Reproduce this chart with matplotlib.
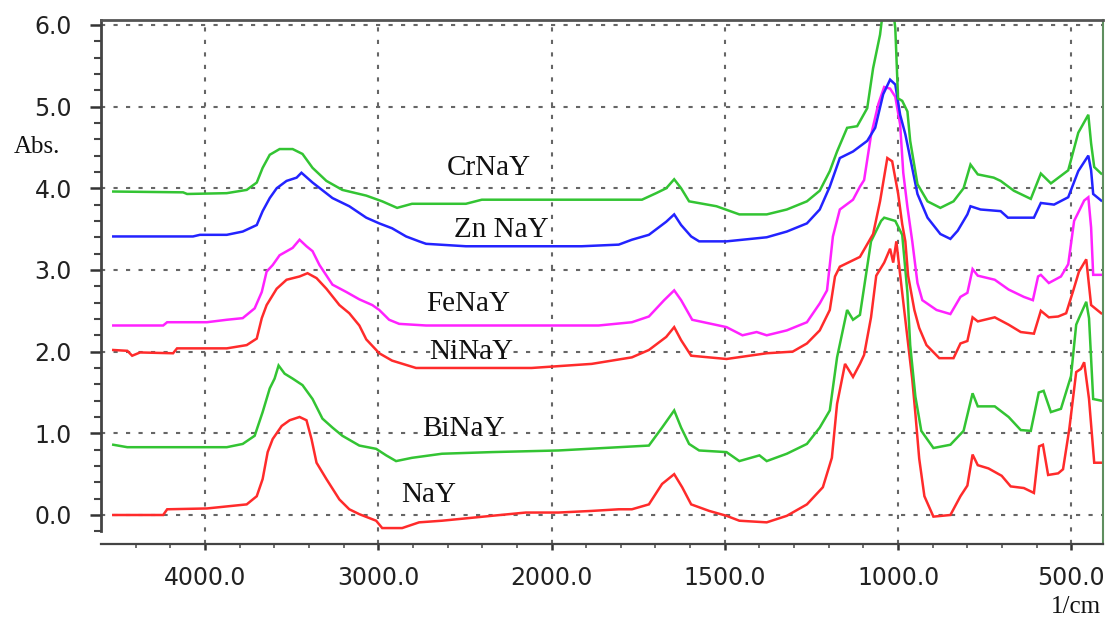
import matplotlib
matplotlib.use("Agg")
import matplotlib.pyplot as plt
import numpy as np
from matplotlib.ticker import FixedLocator, FormatStrFormatter

# FTIR spectra, wavenumber (1/cm) vs absorbance
nay_wn = [4529, 4241, 4218, 3989, 3759, 3701, 3667, 3638, 3609, 3557, 3511, 3454, 3414, 3385,
          3356, 3299, 3224, 3167, 3109, 3012, 2977, 2862, 2764, 2632, 2345, 2149, 1980, 1884,
          1806, 1768, 1719, 1681, 1646, 1623, 1597, 1545, 1495, 1458, 1379, 1321, 1263, 1217,
          1191, 1176, 1153, 1130, 1110, 1098, 1078, 1063, 1040, 1023, 1014, 1005, 988, 973,
          959, 950, 939, 924, 898, 849, 820, 800, 785, 770, 739, 701, 675, 637, 608, 593, 582,
          567, 538, 524, 506, 486, 472, 463, 449, 434, 414]
nay_abs = [0.00, 0.00, 0.07, 0.08, 0.13, 0.23, 0.44, 0.77, 0.93, 1.09, 1.16, 1.20, 1.16, 0.93,
           0.64, 0.44, 0.19, 0.07, 0.01, -0.07, -0.16, -0.16, -0.09, -0.07, -0.01, 0.03, 0.03,
           0.05, 0.07, 0.07, 0.13, 0.38, 0.50, 0.34, 0.13, 0.05, -0.01, -0.07, -0.09, -0.01,
           0.13, 0.34, 0.70, 1.36, 1.85, 1.69, 1.85, 1.96, 2.42, 2.93, 3.09, 3.26, 3.09, 3.35,
           2.72, 2.17, 1.66, 1.24, 0.69, 0.23, -0.02, 0.00, 0.23, 0.36, 0.74, 0.61, 0.57, 0.48,
           0.35, 0.33, 0.27, 0.84, 0.86, 0.49, 0.51, 0.56, 1.05, 1.75, 1.79, 1.87, 1.42, 0.64,
           0.64]

binay_wn = [4529, 4448, 3874, 3782, 3713, 3667, 3626, 3598, 3575, 3540, 3494, 3437, 3379, 3322,
            3264, 3207, 3109, 3012, 2954, 2897, 2805, 2632, 2345, 1980, 1806, 1719, 1681, 1646,
            1626, 1603, 1574, 1495, 1458, 1400, 1379, 1321, 1263, 1226, 1197, 1176, 1147, 1130,
            1110, 1078, 1049, 1040, 1008, 988, 973, 965, 950, 933, 898, 849, 811, 785, 770, 721,
            681, 646, 617, 594, 580, 559, 530, 501, 486, 478, 457, 449, 437, 414]
binay_abs = [0.86, 0.83, 0.83, 0.87, 0.97, 1.26, 1.55, 1.67, 1.83, 1.73, 1.67, 1.59, 1.42, 1.18,
             1.07, 0.97, 0.85, 0.81, 0.73, 0.66, 0.70, 0.75, 0.77, 0.79, 0.83, 0.85, 1.07, 1.28,
             1.07, 0.87, 0.79, 0.77, 0.66, 0.73, 0.66, 0.75, 0.87, 1.07, 1.28, 1.93, 2.51, 2.39,
             2.45, 3.35, 3.60, 3.64, 3.60, 3.43, 2.72, 2.08, 1.45, 1.03, 0.82, 0.86, 1.03, 1.49,
             1.33, 1.33, 1.20, 1.04, 1.03, 1.50, 1.52, 1.26, 1.30, 1.70, 2.33, 2.41, 2.61, 2.41,
             1.42, 1.40]

ninay_wn = [4529, 4448, 4420, 4374, 4184, 4161, 3874, 3759, 3701, 3672, 3644, 3586, 3529, 3454,
            3408, 3356, 3299, 3224, 3167, 3109, 3069, 2994, 2920, 2782, 2494, 2115, 1884, 1768,
            1719, 1669, 1646, 1626, 1597, 1495, 1379, 1304, 1263, 1226, 1197, 1182, 1168, 1110,
            1072, 1052, 1031, 1017, 1000, 988, 979, 971, 953, 939, 918, 881, 840, 820, 800, 785,
            770, 721, 681, 646, 608, 588, 565, 538, 515, 495, 478, 457, 443, 414]
ninay_abs = [2.02, 2.01, 1.95, 1.99, 1.98, 2.04, 2.04, 2.08, 2.16, 2.41, 2.57, 2.77, 2.88, 2.92,
             2.96, 2.90, 2.77, 2.57, 2.47, 2.32, 2.15, 1.98, 1.89, 1.80, 1.80, 1.80, 1.85, 1.93,
             2.02, 2.18, 2.30, 2.14, 1.95, 1.91, 1.98, 2.00, 2.10, 2.26, 2.51, 2.92, 3.04, 3.16,
             3.44, 3.84, 4.37, 4.33, 3.94, 3.56, 3.35, 2.93, 2.51, 2.29, 2.08, 1.92, 1.92, 2.10,
             2.13, 2.42, 2.37, 2.42, 2.33, 2.24, 2.22, 2.50, 2.42, 2.43, 2.47, 2.74, 2.98, 3.13,
             2.57, 2.47]

fenay_wn = [4529, 4241, 4218, 3989, 3874, 3782, 3713, 3672, 3644, 3609, 3569, 3494, 3454, 3414,
            3379, 3339, 3264, 3184, 3109, 3034, 2994, 2937, 2879, 2724, 1864, 1768, 1719, 1675,
            1646, 1626, 1594, 1495, 1449, 1408, 1379, 1321, 1263, 1226, 1205, 1188, 1168, 1130,
            1110, 1098, 1078, 1057, 1040, 1023, 1008, 994, 985, 973, 959, 944, 930, 889, 849,
            820, 800, 785, 770, 721, 681, 637, 611, 596, 588, 565, 530, 509, 492, 478, 463, 451,
            443, 437, 414]
fenay_abs = [2.32, 2.32, 2.36, 2.36, 2.39, 2.41, 2.53, 2.73, 2.98, 3.06, 3.18, 3.27, 3.37, 3.29,
             3.23, 3.06, 2.82, 2.73, 2.64, 2.57, 2.51, 2.39, 2.34, 2.32, 2.32, 2.36, 2.43, 2.63,
             2.75, 2.63, 2.39, 2.30, 2.20, 2.24, 2.20, 2.26, 2.36, 2.59, 2.75, 3.41, 3.74, 3.86,
             4.02, 4.10, 4.65, 5.03, 5.24, 5.22, 5.12, 4.78, 4.19, 3.77, 3.35, 2.84, 2.63, 2.51,
             2.46, 2.67, 2.72, 3.01, 2.93, 2.88, 2.76, 2.67, 2.63, 2.92, 2.94, 2.84, 2.92, 3.07,
             3.60, 3.72, 3.85, 3.89, 3.52, 2.94, 2.94]

znnay_wn = [4529, 4069, 4029, 3874, 3782, 3701, 3667, 3626, 3586, 3529, 3471, 3443, 3379, 3264,
            3167, 3069, 2994, 2920, 2839, 2764, 2724, 2494, 1913, 1806, 1768, 1719, 1669, 1646,
            1626, 1597, 1574, 1495, 1379, 1321, 1263, 1226, 1197, 1168, 1130, 1089, 1066, 1043,
            1023, 1008, 994, 979, 965, 944, 915, 878, 849, 828, 800, 791, 762, 704, 683, 608, 588,
            550, 509, 480, 451, 443, 437, 414]
znnay_abs = [3.41, 3.41, 3.43, 3.43, 3.47, 3.55, 3.72, 3.88, 4.00, 4.09, 4.13, 4.19, 4.07, 3.88,
             3.78, 3.64, 3.57, 3.51, 3.41, 3.35, 3.32, 3.29, 3.29, 3.31, 3.37, 3.43, 3.59, 3.68,
             3.55, 3.41, 3.35, 3.35, 3.40, 3.47, 3.57, 3.74, 4.02, 4.37, 4.45, 4.58, 4.74, 5.15,
             5.33, 5.27, 4.90, 4.66, 4.37, 3.93, 3.64, 3.44, 3.38, 3.48, 3.68, 3.78, 3.74, 3.72,
             3.64, 3.64, 3.82, 3.80, 3.89, 4.21, 4.40, 4.22, 3.93, 3.85]

crnay_wn = [4529, 4126, 4103, 3874, 3759, 3701, 3667, 3626, 3569, 3494, 3437, 3379, 3299, 3207,
            3069, 2977, 2891, 2805, 2494, 2402, 1864, 1739, 1698, 1669, 1646, 1626, 1603, 1524,
            1458, 1379, 1321, 1263, 1226, 1197, 1176, 1147, 1118, 1089, 1072, 1052, 1037, 1020,
            1008, 1000, 988, 973, 965, 944, 915, 878, 840, 811, 791, 770, 724, 704, 666, 617, 588,
            559, 509, 480, 451, 443, 434, 414]
crnay_abs = [3.96, 3.95, 3.93, 3.94, 3.98, 4.07, 4.25, 4.41, 4.48, 4.48, 4.42, 4.25, 4.09, 3.98,
             3.91, 3.84, 3.76, 3.81, 3.81, 3.86, 3.86, 3.86, 3.94, 4.00, 4.11, 4.00, 3.84, 3.78,
             3.68, 3.68, 3.74, 3.84, 3.97, 4.21, 4.45, 4.74, 4.76, 4.98, 5.47, 5.88, 6.40, 6.40,
             5.96, 5.10, 5.07, 4.94, 4.58, 4.05, 3.84, 3.76, 3.84, 4.00, 4.29, 4.17, 4.13, 4.09,
             3.97, 3.87, 4.18, 4.06, 4.22, 4.68, 4.90, 4.55, 4.26, 4.18]

names = ["NaY", "BiNaY", "NiNaY", "FeNaY", "Zn NaY", "CrNaY"]
label_wn = [2707, 2506, 2466, 2483, 2287, 2362]
label_abs = [0.24, 1.05, 2.00, 2.58, 3.49, 4.25]

x_major = [4000, 3000, 2000, 1500, 1000, 500]
x_minor = [4400, 4200, 3800, 3600, 3400, 3200, 2800, 2600, 2400, 2200,
           1900, 1800, 1700, 1600, 1400, 1300, 1200, 1100, 900, 800, 700, 600]
y_major = [0, 1, 2, 3, 4, 5, 6]


# the instrument halves the wavenumber scale below 2000 1/cm
def fwd(x):
    x = np.asarray(x, dtype=float)
    return np.where(x >= 2000, x, 2 * x - 2000)


def inv(t):
    t = np.asarray(t, dtype=float)
    return np.where(t >= 2000, t, (t + 2000) / 2)


fig = plt.figure(figsize=(11.12, 6.21), dpi=100)
ax = fig.add_axes([0.0908, 0.124, 0.901, 0.8438])
ax.set_xscale("function", functions=(fwd, inv))

series = [
    (nay_wn, nay_abs, "#ff2b2b"),
    (binay_wn, binay_abs, "#33c433"),
    (ninay_wn, ninay_abs, "#ff2b2b"),
    (fenay_wn, fenay_abs, "#ff22ff"),
    (znnay_wn, znnay_abs, "#2323ff"),
    (crnay_wn, crnay_abs, "#33c433"),
]
for wn, ab, col in series:
    ax.plot(wn, ab, color=col, lw=1.8, solid_joinstyle="miter")

for name, xw, ya in zip(names, label_wn, label_abs):
    ax.text(xw, ya, name, family="Liberation Serif", fontsize=21, color="#111111",
            ha="center", va="center")

ax.set_xlim(4600, 409)
ax.set_ylim(-0.355, 6.06)

ax.xaxis.set_major_locator(FixedLocator(x_major))
ax.xaxis.set_minor_locator(FixedLocator(x_minor))
ax.xaxis.set_major_formatter(FormatStrFormatter("%.1f"))
ax.yaxis.set_major_locator(FixedLocator(y_major))
ax.yaxis.set_minor_locator(FixedLocator(np.arange(-0.2, 6.01, 0.2)))
ax.yaxis.set_major_formatter(FormatStrFormatter("%.1f"))

ax.grid(which="major", color="#666666", linestyle=(0, (2, 4)), linewidth=1.5)
ax.set_axisbelow(True)

ax.tick_params(axis="y", which="major", direction="out", length=8, width=1.8,
               color="#333333", labelsize=17, pad=13, labelcolor="#222222")
ax.tick_params(axis="y", which="minor", direction="out", length=5, width=1.5, color="#444444")
ax.tick_params(axis="x", which="major", direction="out", length=4, width=1.8,
               color="#333333", labelsize=17, pad=12, labelcolor="#222222")
ax.tick_params(axis="x", which="minor", direction="out", length=3, width=1.2, color="#555555")

ax.spines["left"].set_bounds(-0.2, 6.06)
ax.spines["left"].set_color("#444444")
ax.spines["left"].set_linewidth(2)
ax.spines["bottom"].set_color("#444444")
ax.spines["bottom"].set_linewidth(1.6)
ax.spines["top"].set_color("#555555")
ax.spines["top"].set_linewidth(2)
ax.spines["right"].set_color("#5f8f5f")
ax.spines["right"].set_linewidth(1.5)

fig.text(37 / 1112, 1 - 147 / 621, "Abs.", family="Liberation Serif", fontsize=18,
         color="#111111", ha="center", va="center")
fig.text(1076 / 1112, 1 - 607 / 621, "1/cm", family="Liberation Serif", fontsize=18,
         color="#111111", ha="center", va="center")

fig.savefig("out.png", dpi=100)
